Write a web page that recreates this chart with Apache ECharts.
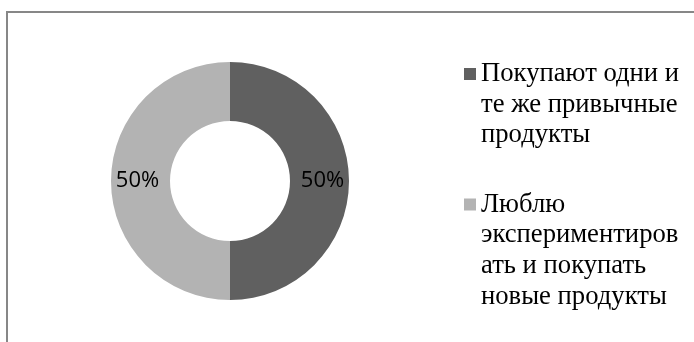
<!DOCTYPE html>
<html>
<head>
<meta charset="utf-8">
<script src="https://cdn.jsdelivr.net/npm/echarts@6/dist/echarts.min.js"></script>
<style>
html,body{margin:0;padding:0;background:#fff;}
#c{width:694px;height:342px;}
</style>
</head>
<body>
<div id="c"></div>
<script>
const categories = ['Покупают одни и\nте же привычные\nпродукты', 'Люблю\nэкспериментиров\nать и покупать\nновые продукты'];
const values = [50, 50];
const colors = ['#606060', '#b3b3b3'];

const LH = 30.67;
const chart = echarts.init(document.getElementById('c'), null, {renderer: 'canvas'});

function legendFor(i, firstCenter) {
  const lines = categories[i].split('\n').length;
  const pad = lines - 1;
  return {
    orient: 'vertical',
    left: 464,
    top: firstCenter - (pad + 0.5) * LH,
    padding: 0,
    itemWidth: 12,
    itemHeight: 12,
    icon: 'rect',
    data: [categories[i]],
    formatter: function (n) { return '\n'.repeat(pad) + n; },
    textStyle: {fontFamily: 'Liberation Serif', fontSize: 26.67, lineHeight: LH, color: '#000'},
    selectedMode: false
  };
}

chart.setOption({
  animation: false,
  graphic: [{
    type: 'rect',
    shape: {x: 7, y: 12, width: 720, height: 360},
    style: {fill: 'none', stroke: '#878787', lineWidth: 2},
    silent: true, z: -1
  }],
  legend: [legendFor(0, 74), legendFor(1, 204.5)],
  series: [{
    type: 'pie',
    center: [230, 181],
    radius: [60, 119],
    startAngle: 90,
    clockwise: true,
    itemStyle: {borderWidth: 0},
    label: {
      show: true,
      position: 'inside',
      formatter: '{d}%',
      fontFamily: 'Open Sans',
      fontSize: 22,
      color: '#000'
    },
    labelLine: {show: false},
    emphasis: {disabled: true},
    data: categories.map((c, i) => ({name: c, value: values[i], itemStyle: {color: colors[i]}}))
  }]
});
</script>
</body>
</html>
